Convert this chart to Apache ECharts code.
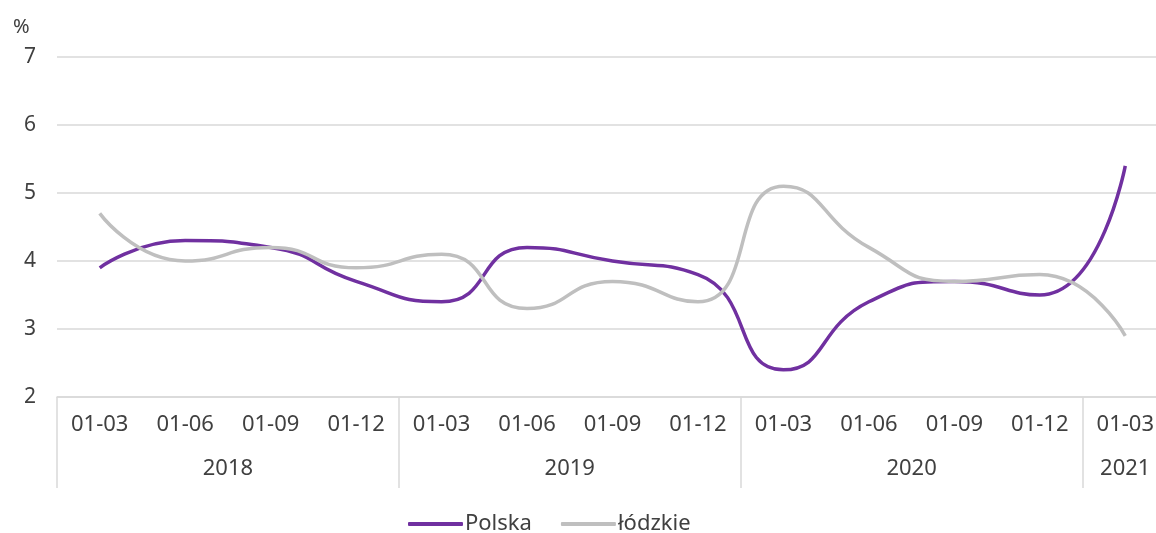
<!DOCTYPE html>
<html>
<head>
<meta charset="utf-8">
<script src="https://cdn.jsdelivr.net/npm/echarts@6/dist/echarts.min.js"></script>
<style>
  html, body { margin: 0; padding: 0; background: #fff; overflow: hidden; }
  /* obszar wykresu wychodzi poza prawą krawędź okna (jak w oryginale) */
  #chart { width: 1168px; height: 533px; }
</style>
</head>
<body>
<div id="chart"></div>
<script>
// kwartały (etykiety osi X)
const quarters = ['01-03', '01-06', '01-09', '01-12', '01-03', '01-06', '01-09', '01-12',
                  '01-03', '01-06', '01-09', '01-12', '01-03'];
// lata i liczba kwartałów w każdym roku
const years = ['2018', '2019', '2020', '2021'];
const yearCounts = [4, 4, 4, 1];
// wartości serii
const polska = [3.9, 4.3, 4.2, 3.7, 3.4, 4.2, 4.0, 3.8, 2.4, 3.4, 3.7, 3.5, 5.4];
const lodzkie = [4.7, 4.0, 4.2, 3.9, 4.1, 3.3, 3.7, 3.4, 5.1, 4.2, 3.7, 3.8, 2.9];

const FONT = 'Noto Sans';
const txt = '#404040';
const lineGray = '#d9d9d9';

// środki i granice grup lat (w jednostkach kategorii)
const yearStarts = [];
const yearCenters = [];
let acc = 0;
yearCounts.forEach(c => {
  yearStarts.push(acc);
  yearCenters.push(acc + c / 2);
  acc += c;
});

const chart = echarts.init(document.getElementById('chart'));
chart.setOption({
  animation: false,
  textStyle: { fontFamily: FONT },
  title: {
    text: '%', left: 8, top: 12,
    textStyle: { fontFamily: FONT, fontSize: 20, fontWeight: 'normal', color: txt }
  },
  grid: { left: 57, right: 0, top: 57, bottom: 136, containLabel: false },
  legend: {
    bottom: -7, left: 403,
    itemWidth: 55, itemHeight: 4, itemGap: 29,
    icon: 'roundRect',
    textStyle: { fontFamily: FONT, fontSize: 22, color: txt, padding: [0, 0, 0, -3] },
    data: ['Polska', 'łódzkie']
  },
  xAxis: [
    {
      type: 'category',
      data: quarters,
      boundaryGap: true,
      axisLine: { lineStyle: { color: lineGray, width: 1.5 } },
      axisTick: { show: false },
      axisLabel: { fontFamily: FONT, fontSize: 22, color: txt, margin: 17, interval: 0 }
    },
    {
      type: 'value',
      position: 'bottom',
      min: 0, max: quarters.length,
      splitLine: { show: false },
      axisLine: { show: false },
      axisTick: {
        show: true, length: 91,
        customValues: yearStarts,
        lineStyle: { color: lineGray, width: 1.5 }
      },
      axisLabel: {
        fontFamily: FONT, fontSize: 22, color: txt, margin: 61,
        customValues: yearCenters,
        formatter: v => years[yearCenters.indexOf(v)] || ''
      }
    }
  ],
  yAxis: {
    type: 'value',
    min: 2, max: 7, interval: 1,
    axisLine: { show: false },
    axisTick: { show: false },
    splitLine: { lineStyle: { color: lineGray, width: 1.5 } },
    axisLabel: { fontFamily: FONT, fontSize: 21, color: txt, margin: 21 }
  },
  series: [
    {
      name: 'Polska', type: 'line', data: polska, xAxisIndex: 0,
      smooth: 0.55, symbol: 'none',
      lineStyle: { color: '#7030a0', width: 3.5 },
      itemStyle: { color: '#7030a0' }
    },
    {
      name: 'łódzkie', type: 'line', data: lodzkie, xAxisIndex: 0,
      smooth: 0.55, symbol: 'none',
      lineStyle: { color: '#bfbfbf', width: 3.5 },
      itemStyle: { color: '#bfbfbf' }
    }
  ]
});
</script>
</body>
</html>
